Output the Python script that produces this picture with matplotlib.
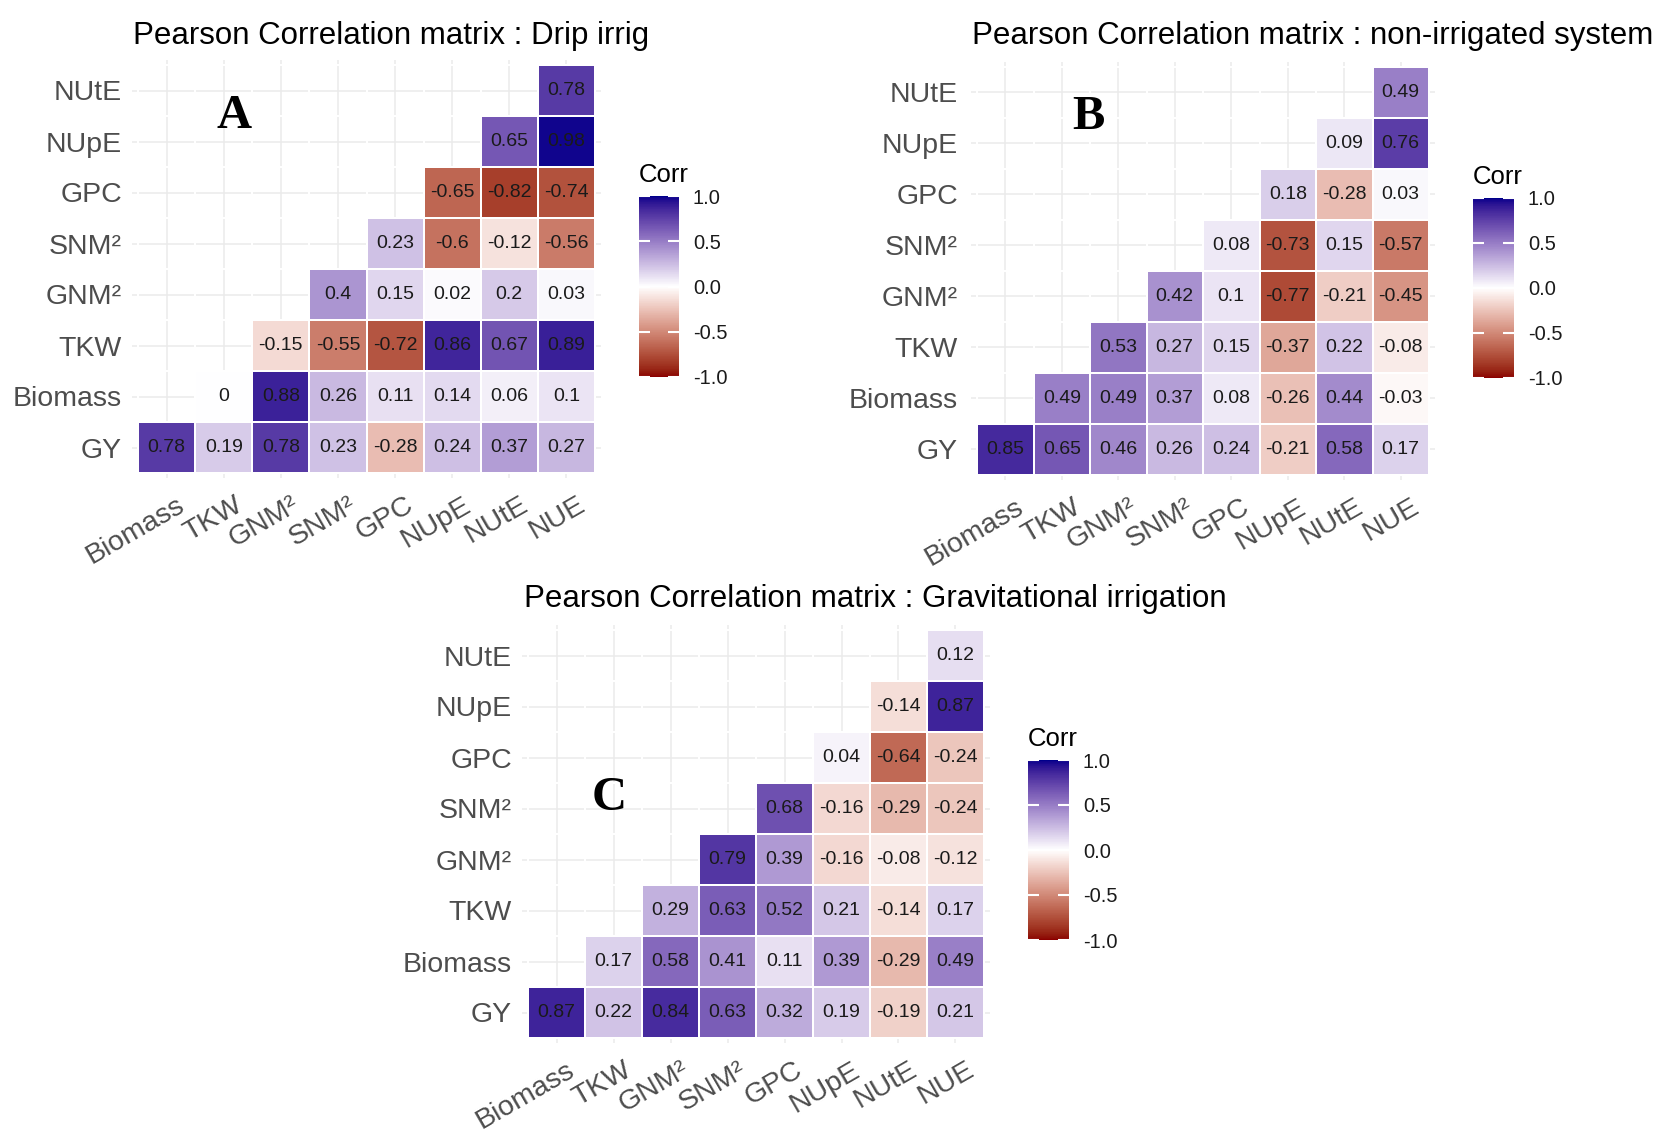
import numpy as np
import matplotlib
matplotlib.use('Agg')
import matplotlib.pyplot as plt
from matplotlib.colors import ListedColormap, Normalize
from matplotlib.cm import ScalarMappable
from matplotlib.transforms import ScaledTranslation

plt.rcParams['font.family'] = ['Liberation Sans', 'DejaVu Sans']

W, H = 1678, 1134

# rows bottom -> top, columns left -> right (lower triangle as drawn by ggcorrplot)
row_labels = ['GY', 'Biomass', 'TKW', 'GNM²', 'SNM²', 'GPC', 'NUpE', 'NUtE']
col_labels = ['Biomass', 'TKW', 'GNM²', 'SNM²', 'GPC', 'NUpE', 'NUtE', 'NUE']

# each row starts at the column with the same index
drip_vals = [
    [0.78, 0.19, 0.78, 0.23, -0.28, 0.24, 0.37, 0.27],
    [0, 0.88, 0.26, 0.11, 0.14, 0.06, 0.1],
    [-0.15, -0.55, -0.72, 0.86, 0.67, 0.89],
    [0.4, 0.15, 0.02, 0.2, 0.03],
    [0.23, -0.6, -0.12, -0.56],
    [-0.65, -0.82, -0.74],
    [0.65, 0.98],
    [0.78],
]
nonirr_vals = [
    [0.85, 0.65, 0.46, 0.26, 0.24, -0.21, 0.58, 0.17],
    [0.49, 0.49, 0.37, 0.08, -0.26, 0.44, -0.03],
    [0.53, 0.27, 0.15, -0.37, 0.22, -0.08],
    [0.42, 0.1, -0.77, -0.21, -0.45],
    [0.08, -0.73, 0.15, -0.57],
    [0.18, -0.28, 0.03],
    [0.09, 0.76],
    [0.49],
]
grav_vals = [
    [0.87, 0.22, 0.84, 0.63, 0.32, 0.19, -0.19, 0.21],
    [0.17, 0.58, 0.41, 0.11, 0.39, -0.29, 0.49],
    [0.29, 0.63, 0.52, 0.21, -0.14, 0.17],
    [0.79, 0.39, -0.16, -0.08, -0.12],
    [0.68, -0.16, -0.29, -0.24],
    [0.04, -0.64, -0.24],
    [-0.14, 0.87],
    [0.12],
]

cbar_ticks = [-1, -0.5, 0, 0.5, 1]
cbar_labels = ['-1.0', '-0.5', '0.0', '0.5', '1.0']

# ggplot's gradient2 interpolates in CIE Lab
M = np.array([[0.4124564, 0.3575761, 0.1804375],
              [0.2126729, 0.7151522, 0.0721750],
              [0.0193339, 0.1191920, 0.9503041]])
WHITE = np.array([0.95047, 1.0, 1.08883])


def srgb_to_lab(c):
    c = np.asarray(c, float)
    lin = np.where(c <= 0.04045, c / 12.92, ((c + 0.055) / 1.055) ** 2.4)
    xyz = M @ lin / WHITE
    f = np.where(xyz > 216 / 24389, np.cbrt(xyz), (24389 / 27 * xyz + 16) / 116)
    return np.array([116 * f[1] - 16, 500 * (f[0] - f[1]), 200 * (f[1] - f[2])])


def lab_to_srgb(lab):
    L, a, b = lab
    fy = (L + 16) / 116
    f = np.array([fy + a / 500, fy, fy - b / 200])
    xyz = np.where(f ** 3 > 216 / 24389, f ** 3, (116 * f - 16) / (24389 / 27)) * WHITE
    lin = np.clip(np.linalg.solve(M, xyz), 0, 1)
    return np.clip(np.where(lin <= 0.0031308, 12.92 * lin, 1.055 * lin ** (1 / 2.4) - 0.055), 0, 1)


low = srgb_to_lab([139 / 255, 0, 0])
mid = srgb_to_lab([1, 1, 1])
high = srgb_to_lab([0, 0, 139 / 255])
colors = []
for t in np.linspace(-1, 1, 256):
    if t < 0:
        lab = mid + (low - mid) * (-t)
    else:
        lab = mid + (high - mid) * t
    colors.append(lab_to_srgb(lab))
cmap = ListedColormap(colors)
norm = Normalize(-1, 1)

fig = plt.figure(figsize=(W / 100, H / 100), dpi=100)


def px_axes(left, top, width, height):
    return fig.add_axes([left / W, 1 - (top + height) / H, width / W, height / H])


def draw_panel(vals, cells, title, title_pos, letter, letter_pos, cbar_box, label_right):
    x0, y0, x1, y1 = cells
    cw = (x1 - x0) / 8
    ch = (y1 - y0) / 8
    ax = px_axes(x0 - 0.1 * cw, y0 - 0.1 * ch, 8.2 * cw, 8.2 * ch)
    ax.set_xlim(-0.6, 7.6)
    ax.set_ylim(-0.6, 7.6)

    mat = np.full((8, 8), np.nan)
    for i, row in enumerate(vals):
        for k, v in enumerate(row):
            mat[i, i + k] = v
    ax.pcolormesh(np.arange(-0.5, 8), np.arange(-0.5, 8), np.ma.masked_invalid(mat),
                  cmap=cmap, norm=norm, edgecolors='white', linewidth=1.4)
    for i, row in enumerate(vals):
        for k, v in enumerate(row):
            ax.text(i + k, i, f'{v:g}', ha='center', va='center', fontsize=14, color='#1a1a1a')

    ax.grid(True, color='#EBEBEB', linewidth=1.1)
    ax.set_axisbelow(True)
    for s in ax.spines.values():
        s.set_visible(False)

    ax.set_xticks(range(8))
    ax.set_xticklabels(col_labels, rotation=30, ha='right', va='top', rotation_mode='anchor',
                       fontsize=20.5, color='#4D4D4D')
    ax.set_yticks(range(8))
    ax.set_yticklabels(row_labels, fontsize=20.5, color='#4D4D4D')
    ax.tick_params(axis='y', length=0, pad=(x0 - 0.1 * cw - label_right) * 0.72)
    ax.tick_params(axis='x', length=0, pad=10)
    shift = ScaledTranslation(10 / 100, 0, fig.dpi_scale_trans)
    for lab in ax.get_xticklabels():
        lab.set_transform(lab.get_transform() + shift)

    fig.text(title_pos[0] / W, 1 - title_pos[1] / H, title, fontsize=22.5,
             ha='left', va='baseline', color='black')
    fig.text(letter_pos[0] / W, 1 - letter_pos[1] / H, letter, family='Liberation Serif',
             weight='bold', fontsize=35, ha='center', va='center')

    cx0, cy0, cx1, cy1 = cbar_box
    cax = px_axes(cx0, cy0, cx1 - cx0, cy1 - cy0)
    cb = fig.colorbar(ScalarMappable(norm=norm, cmap=cmap), cax=cax, ticks=cbar_ticks)
    cb.outline.set_visible(False)
    cax.set_yticklabels(cbar_labels)
    cax.tick_params(direction='in', length=8, width=1.5, color='white', left=True, right=True,
                    labelsize=14.5, pad=10, labelcolor='#1a1a1a')
    fig.text(cx0 / W, 1 - (cy0 - 21) / H, 'Corr', fontsize=18.5, ha='left', va='center')


draw_panel(drip_vals, (138, 65, 595, 473), 'Pearson Correlation matrix : Drip irrig',
           (133, 44), 'A', (234, 116), (639, 196, 679, 377), 122)
draw_panel(nonirr_vals, (977, 67, 1429, 475), 'Pearson Correlation matrix : non-irrigated system',
           (972, 44), 'B', (1088, 117), (1473, 198, 1514, 378), 958)
draw_panel(grav_vals, (528, 630, 984, 1038), 'Pearson Correlation matrix : Gravitational irrigation',
           (524, 607), 'C', (609, 798), (1028, 760, 1069, 940), 512)

fig.savefig('out.png', dpi=100, facecolor='white')
